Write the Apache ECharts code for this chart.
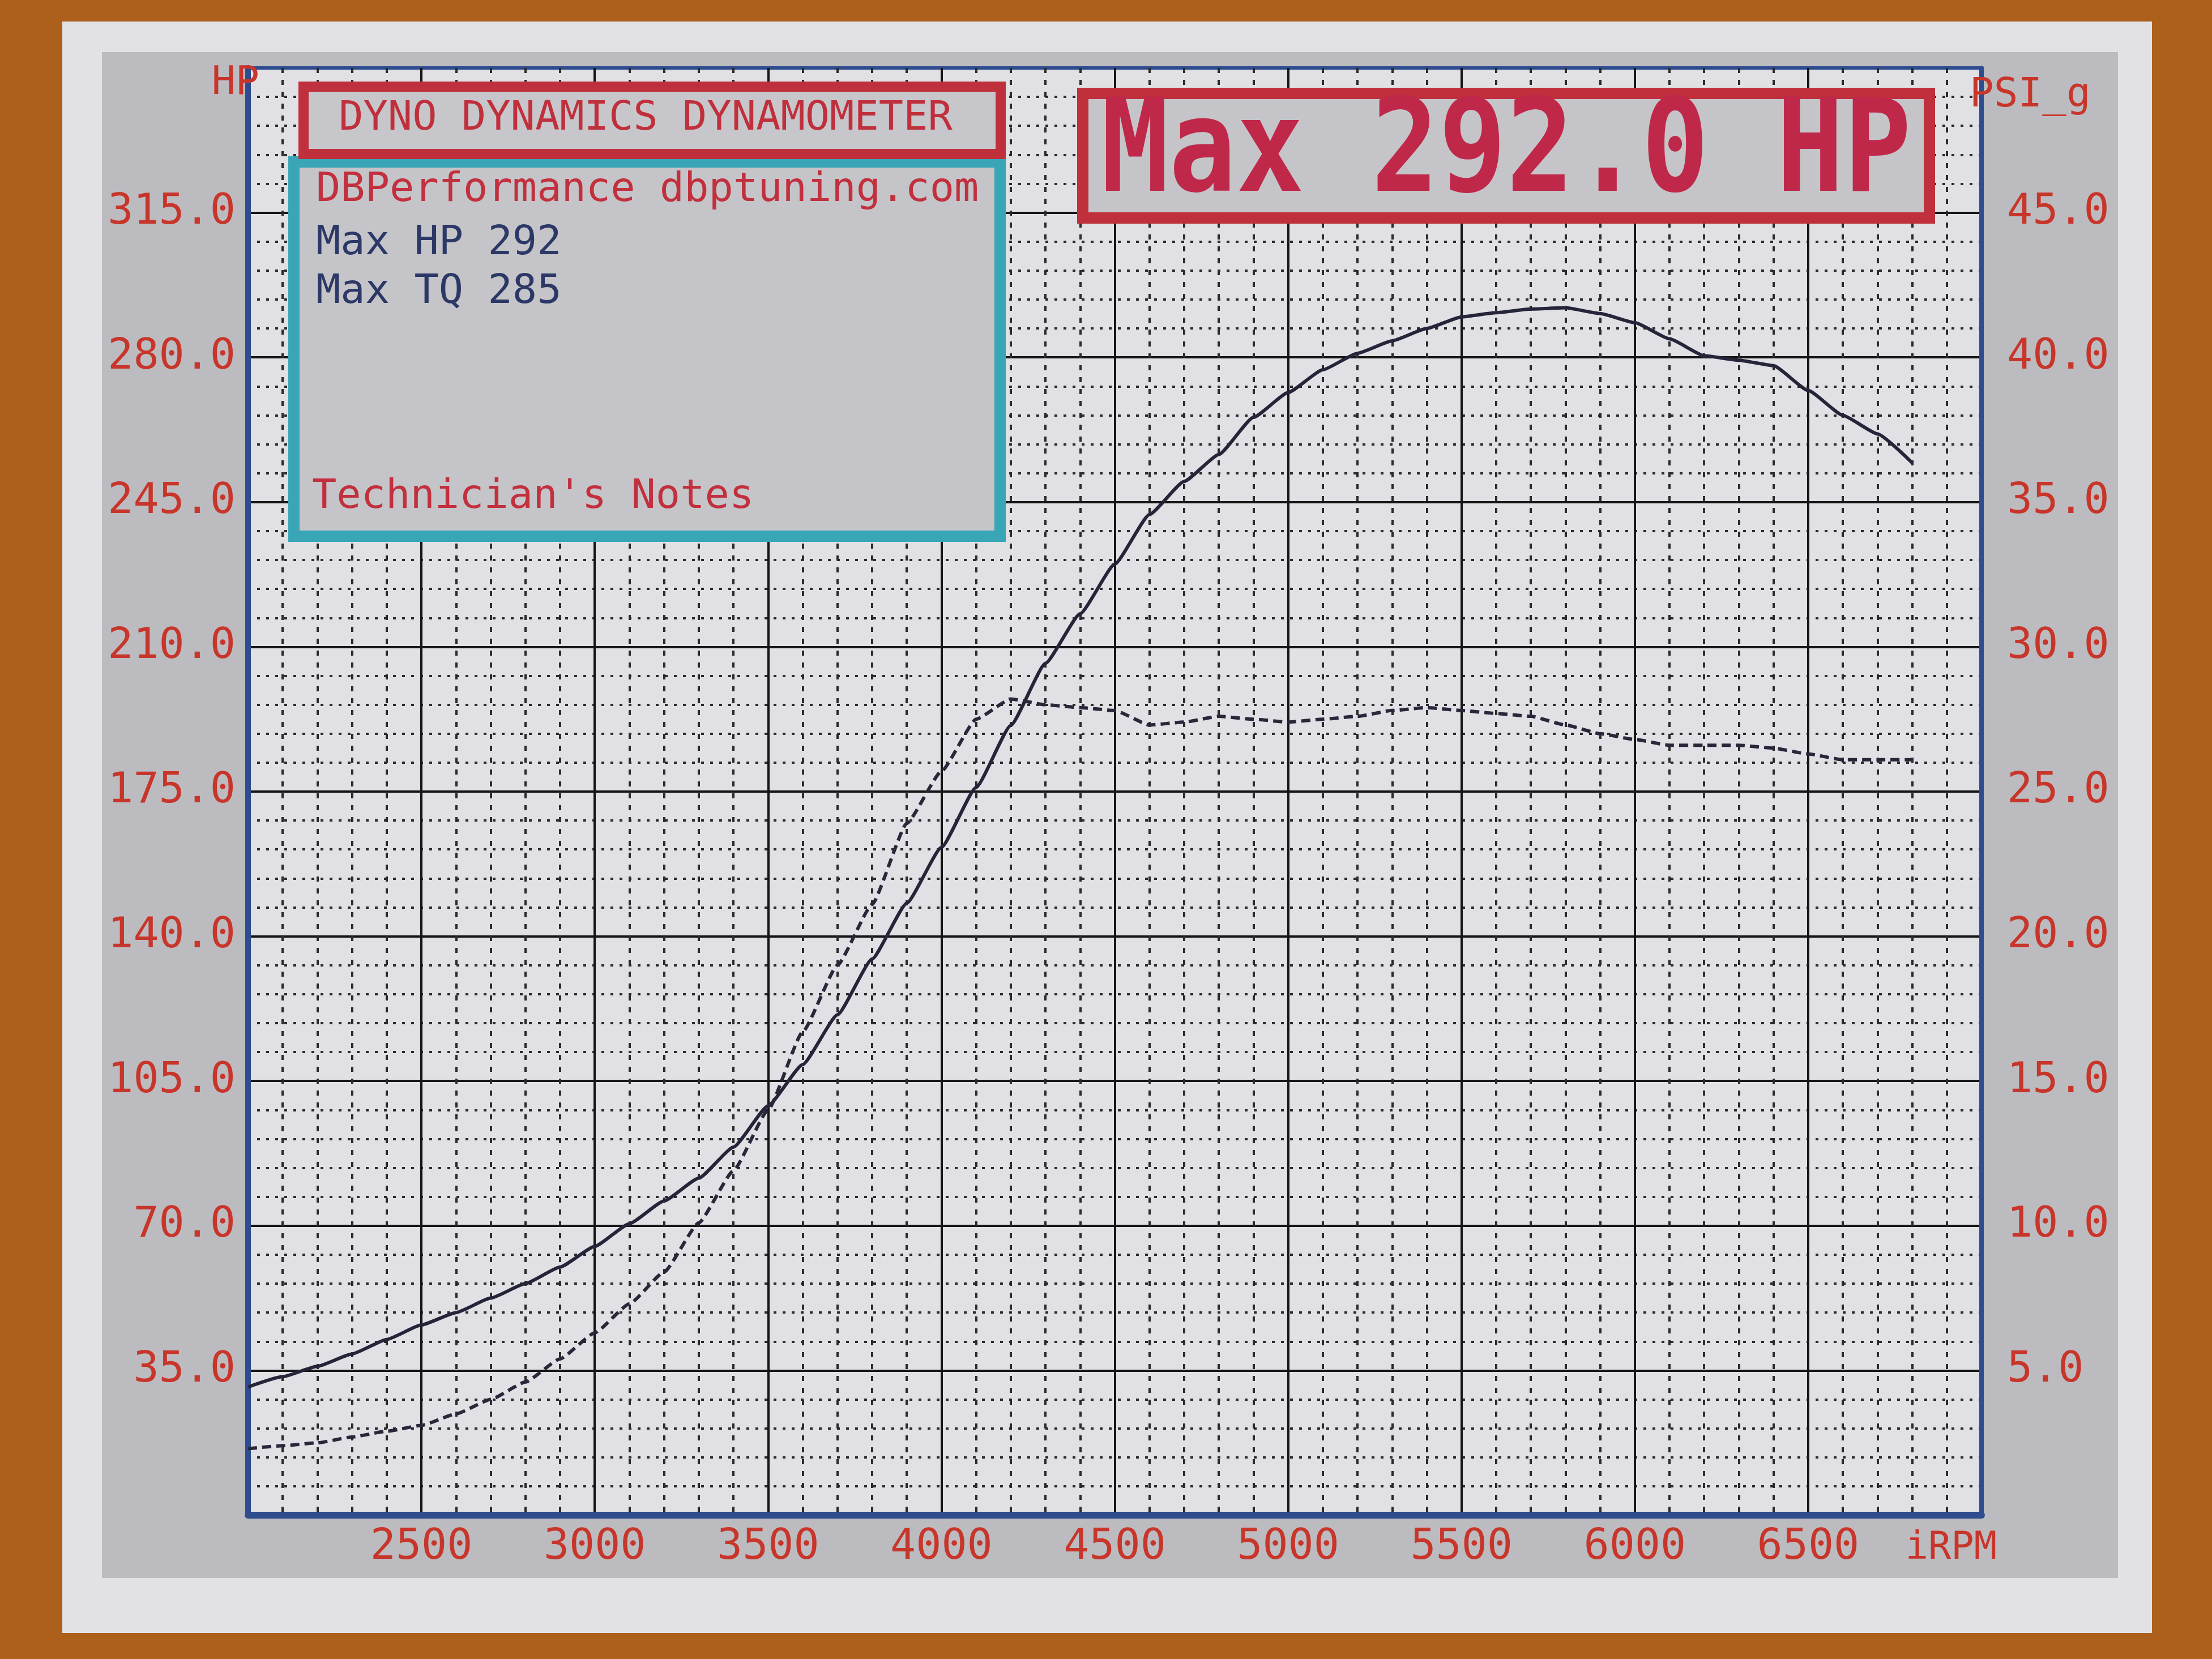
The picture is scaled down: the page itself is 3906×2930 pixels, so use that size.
<!DOCTYPE html>
<html>
<head>
<meta charset="utf-8">
<script src="https://cdn.jsdelivr.net/npm/echarts@6/dist/echarts.min.js"></script>
<style>
  html, body { margin: 0; padding: 0; width: 3906px; height: 2930px; background: #ad601c; overflow: hidden; }
  #paper { position: absolute; left: 110px; top: 38px; width: 3690px; height: 2846px; background: #e2e2e6; }
  #band { position: absolute; left: 180px; top: 92px; width: 3560px; height: 2695px; background: #bcbcc0; }
  #chart { position: absolute; left: 0; top: 0; width: 3906px; height: 2930px; }
</style>
</head>
<body>
<div id="paper"></div>
<div id="band"></div>
<div id="chart"></div>
<script>
// ---- data read from the dyno sheet ----
const rpm = [2000, 2100, 2200, 2300, 2400, 2500, 2600, 2700, 2800, 2900,
             3000, 3100, 3200, 3300, 3400, 3500, 3600, 3700, 3800, 3900,
             4000, 4100, 4200, 4300, 4400, 4500, 4600, 4700, 4800, 4900,
             5000, 5100, 5200, 5300, 5400, 5500, 5600, 5700, 5800, 5900,
             6000, 6100, 6200, 6300, 6400, 6500, 6600, 6700, 6800];
const powerHP = [31, 33.5, 36, 39, 42.5, 46, 49, 52.5, 56, 60,
                 65, 70.5, 76, 81.5, 89, 99, 109, 121, 134.5, 148,
                 161.5, 176, 191, 206, 218, 230, 242, 250, 256.5, 265.5,
                 271.5, 277, 281, 284, 287, 289.8, 290.8, 291.7, 292, 290.6,
                 288.4, 284.5, 280.4, 279.3, 278, 272, 266, 261.5, 254.5];
const boostPSI = [2.3, 2.4, 2.5, 2.7, 2.9, 3.1, 3.5, 4.0, 4.6, 5.4,
                  6.3, 7.3, 8.4, 10.1, 11.9, 14.0, 16.7, 19.0, 21.1, 23.9,
                  25.7, 27.5, 28.2, 28.0, 27.9, 27.8, 27.3, 27.4, 27.6, 27.5,
                  27.4, 27.5, 27.6, 27.8, 27.9, 27.8, 27.7, 27.6, 27.3, 27.0,
                  26.8, 26.6, 26.6, 26.6, 26.5, 26.3, 26.1, 26.1, 26.1];
const xTicks = [2500, 3000, 3500, 4000, 4500, 5000, 5500, 6000, 6500];
const hpTicks = [35, 70, 105, 140, 175, 210, 245, 280, 315];
const psiTicks = [5, 10, 15, 20, 25, 30, 35, 40, 45];
const infoLines = ['DBPerformance dbptuning.com', 'Max HP 292', 'Max TQ 285', "Technician's Notes"];
const titleText = 'DYNO DYNAMICS DYNAMOMETER';
const maxText = 'Max 292.0 HP';

const MONO = '"DejaVu Sans Mono", "Liberation Mono", monospace';
const RED = '#c8352a';
const BOXRED = '#c0303c';
const BLUE = '#2e4c8e';

const chart = echarts.init(document.getElementById('chart'), null, { renderer: 'canvas' });

const labelStyle = { color: RED, fontFamily: MONO, fontSize: 75 };

const option = {
  backgroundColor: 'transparent',
  animation: false,
  grid: {
    left: 438, right: 407, top: 120, bottom: 254,
    show: true, backgroundColor: '#e1e1e5', borderColor: BLUE, borderWidth: 6
  },
  xAxis: {
    type: 'value', min: 2000, max: 7000, interval: 500,
    axisLine: { show: true, lineStyle: { color: BLUE, width: 12 } },
    axisTick: { show: false },
    axisLabel: Object.assign({}, labelStyle, {
      margin: 20,
      formatter: v => xTicks.includes(v) ? String(v) : ''
    }),
    splitLine: { show: true, showMinLine: false, showMaxLine: false, lineStyle: { color: '#151515', width: 4 } },
    minorTick: { show: false, splitNumber: 5 },
    minorSplitLine: { show: true, lineStyle: { color: '#2a2a2a', width: 4, type: [9, 12] } }
  },
  yAxis: [
    {
      type: 'value', min: 0, max: 350, interval: 35, position: 'left',
      axisLine: { show: true, lineStyle: { color: BLUE, width: 10 } },
      axisTick: { show: false },
      axisLabel: Object.assign({}, labelStyle, {
        margin: 22,
        formatter: v => hpTicks.includes(v) ? v.toFixed(1) : ''
      }),
      splitLine: { show: true, showMinLine: false, showMaxLine: false, lineStyle: { color: '#151515', width: 4 } },
      minorTick: { show: false, splitNumber: 5 },
      minorSplitLine: { show: true, lineStyle: { color: '#2a2a2a', width: 4, type: [5, 11] } }
    },
    {
      type: 'value', min: 0, max: 50, interval: 5, position: 'right',
      axisLine: { show: true, lineStyle: { color: BLUE, width: 8 } },
      axisTick: { show: false },
      axisLabel: Object.assign({}, labelStyle, {
        margin: 45,
        formatter: v => psiTicks.includes(v) ? v.toFixed(1) : ''
      }),
      splitLine: { show: false }
    }
  ],
  series: [
    {
      name: 'HP', type: 'line', yAxisIndex: 0, showSymbol: false, smooth: 0.15, smoothMonotone: 'x',
      data: rpm.map((r, i) => [r, powerHP[i]]),
      lineStyle: { color: '#25253a', width: 6 },
      z: 5
    },
    {
      name: 'PSI_g', type: 'line', yAxisIndex: 1, showSymbol: false, smooth: 0.15, smoothMonotone: 'x',
      data: rpm.map((r, i) => [r, boostPSI[i]]),
      lineStyle: { color: '#28283a', width: 6, type: [16, 9] },
      z: 5
    }
  ],
  graphic: [
    // axis captions
    { type: 'text', x: 458, y: 148, z: 100,
      style: { text: 'HP', fill: RED, font: '70px ' + MONO, textAlign: 'right', textVerticalAlign: 'middle' } },
    { type: 'text', x: 3478, y: 170, z: 100,
      style: { text: 'PSI_g', fill: RED, font: '71px ' + MONO, textAlign: 'left', textVerticalAlign: 'middle' } },
    { type: 'text', x: 3526, y: 2736, z: 100,
      style: { text: 'iRPM', fill: RED, font: '67px ' + MONO, textAlign: 'right', textVerticalAlign: 'middle' } },
    // info box (teal)
    { type: 'rect', z: 100, shape: { x: 519, y: 286, width: 1247, height: 661 },
      style: { fill: '#c5c5c9', stroke: '#38a6b6', lineWidth: 20 } },
    // title box (red)
    { type: 'rect', z: 101, shape: { x: 536, y: 153, width: 1231, height: 119 },
      style: { fill: '#c7c7cb', stroke: BOXRED, lineWidth: 18 } },
    { type: 'text', x: 1140, y: 210, z: 102,
      style: { text: titleText, fill: BOXRED, font: '72px ' + MONO, textAlign: 'center', textVerticalAlign: 'middle' } },
    { type: 'text', x: 558, y: 336, z: 102,
      style: { text: infoLines[0], fill: '#c2303e', font: '72px ' + MONO, textAlign: 'left', textVerticalAlign: 'middle' } },
    { type: 'text', x: 558, y: 430, z: 102,
      style: { text: infoLines[1], fill: '#2c3866', font: '72px ' + MONO, textAlign: 'left', textVerticalAlign: 'middle' } },
    { type: 'text', x: 558, y: 516, z: 102,
      style: { text: infoLines[2], fill: '#2c3866', font: '72px ' + MONO, textAlign: 'left', textVerticalAlign: 'middle' } },
    { type: 'text', x: 551, y: 878, z: 102,
      style: { text: infoLines[3], fill: '#c2303e', font: '72px ' + MONO, textAlign: 'left', textVerticalAlign: 'middle' } },
    // big max box
    { type: 'rect', z: 100, shape: { x: 1912, y: 165, width: 1495, height: 220 },
      style: { fill: '#c5c5c9', stroke: BOXRED, lineWidth: 20 } },
    { type: 'text', x: 2660, y: 278, z: 102, scaleY: 1.15,
      style: { text: maxText, fill: '#c0284a', font: 'bold 198px ' + MONO, textAlign: 'center', textVerticalAlign: 'middle' } }
  ]
};

chart.setOption(option);
</script>
</body>
</html>
